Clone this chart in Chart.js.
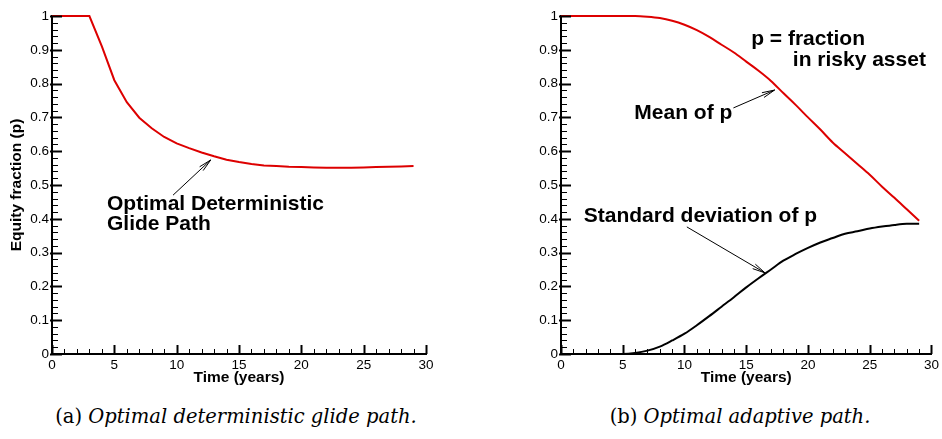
<!DOCTYPE html>
<html lang="en">
<head>
<meta charset="UTF-8">
<title>Glide paths</title>
<script src="https://cdn.jsdelivr.net/npm/chart.js"></script>
<style>
  body { margin: 0; background: #fff; width: 942px; height: 439px; position: relative; overflow: hidden; }
  .panel { position: absolute; top: 0; }
  .caption { position: absolute; top: 405px; font-family: "DejaVu Serif", serif; font-size: 19.5px; color: #000; text-align: center; white-space: nowrap; }
</style>
</head>
<body>
<div class="panel" style="left:0"><canvas id="leftChart" width="445" height="387"></canvas></div>
<div class="panel" style="left:509px"><canvas id="rightChart" width="433" height="387"></canvas></div>
<div class="caption" style="left:36px;width:400px">(a) <i>Optimal deterministic glide path.</i></div>
<div class="caption" style="left:540px;width:400px">(b) <i>Optimal adaptive path.</i></div>

<script>
// time axis (years)
const years = [0, 1, 2, 3, 4, 5, 6, 7, 8, 9, 10, 11, 12, 13, 14, 15, 16, 17, 18, 19, 20, 21, 22, 23, 24, 25, 26, 27, 28, 29];

// (a) optimal deterministic glide path
const deterministicPath = [1, 1, 1, 1, 0.91, 0.81, 0.745, 0.699, 0.668, 0.642, 0.623, 0.609, 0.596, 0.585, 0.575,
  0.568, 0.562, 0.558, 0.556, 0.554, 0.553, 0.552, 0.551, 0.551, 0.551, 0.552, 0.553, 0.554, 0.555, 0.556];

// (b) optimal adaptive path: mean and standard deviation of p
const adaptiveMean = [1, 1, 1, 1, 1, 1, 1, 0.998, 0.994, 0.986, 0.974, 0.958, 0.938, 0.915, 0.892,
  0.865, 0.838, 0.808, 0.772, 0.737, 0.700, 0.664, 0.626, 0.594, 0.562, 0.530, 0.495, 0.462, 0.428, 0.394];
const adaptiveStd = [0, 0, 0, 0, 0, 0, 0.003, 0.01, 0.022, 0.04, 0.06, 0.085, 0.112, 0.14, 0.168,
  0.197, 0.224, 0.25, 0.276, 0.296, 0.314, 0.33, 0.343, 0.356, 0.363, 0.371, 0.377, 0.382, 0.385, 0.385];

const xTicks = [0, 5, 10, 15, 20, 25, 30];
const yTicks = [0, 0.1, 0.2, 0.3, 0.4, 0.5, 0.6, 0.7, 0.8, 0.9, 1];

const sans = '"Liberation Sans", Arial, Helvetica, sans-serif';
const RED = '#dd0000';

function toPoints(ys) {
  return years.map((t, i) => ({ x: t, y: ys[i] }));
}

// tecplot style ticks pointing into the plot, with minor ticks
const innerTicks = {
  id: 'innerTicks',
  afterDraw(chart) {
    const { ctx, chartArea, scales: { x, y } } = chart;
    ctx.save();
    ctx.strokeStyle = '#000';
    for (let i = 0; i <= 50; i++) {
      const py = Math.round(y.getPixelForValue(i / 50)) + 0.5;
      const major = i % 5 === 0;
      ctx.lineWidth = major ? 2 : 1;
      ctx.beginPath();
      ctx.moveTo(chartArea.left - (major ? 2 : 0), py);
      ctx.lineTo(chartArea.left + (major ? 10 : 6), py);
      ctx.stroke();
    }
    for (let t = 0; t <= 30; t++) {
      const px = Math.round(x.getPixelForValue(t)) + 0.5;
      const major = t % 5 === 0;
      ctx.lineWidth = major ? 2 : 1;
      ctx.beginPath();
      ctx.moveTo(px, chartArea.bottom);
      ctx.lineTo(px, chartArea.bottom - (major ? 9 : 5));
      ctx.stroke();
    }
    ctx.restore();
  }
};

function arrow(ctx, x0, y0, x1, y1) {
  const a = Math.atan2(y1 - y0, x1 - x0);
  const len = 13, spread = 0.2;
  ctx.beginPath();
  ctx.moveTo(x0, y0);
  ctx.lineTo(x1, y1);
  ctx.moveTo(x1 - len * Math.cos(a - spread), y1 - len * Math.sin(a - spread));
  ctx.lineTo(x1, y1);
  ctx.lineTo(x1 - len * Math.cos(a + spread), y1 - len * Math.sin(a + spread));
  ctx.stroke();
}

// text labels and arrows placed in data coordinates
const notes = {
  id: 'notes',
  afterDatasetsDraw(chart, args, opts) {
    const { ctx, scales: { x, y } } = chart;
    ctx.save();
    ctx.fillStyle = '#000';
    ctx.strokeStyle = '#000';
    ctx.lineWidth = 1;
    ctx.font = 'bold 21px ' + sans;
    ctx.textBaseline = 'alphabetic';
    ctx.textAlign = 'left';
    (opts.labels || []).forEach(l => {
      ctx.fillText(l.text, x.getPixelForValue(l.x), y.getPixelForValue(l.y));
    });
    (opts.arrows || []).forEach(a => {
      arrow(ctx, x.getPixelForValue(a.from[0]), y.getPixelForValue(a.from[1]),
        x.getPixelForValue(a.to[0]), y.getPixelForValue(a.to[1]));
    });
    ctx.restore();
  }
};

function makeOptions(showYTitle, padRight, noteOpts) {
  return {
    responsive: false,
    animation: false,
    layout: { padding: { top: 16, right: padRight, bottom: 0, left: 0 } },
    plugins: {
      legend: { display: false },
      tooltip: { enabled: false },
      notes: noteOpts
    },
    scales: {
      x: {
        type: 'linear',
        min: 0,
        max: 30,
        afterBuildTicks: s => { s.ticks = xTicks.map(v => ({ value: v })); },
        afterFit: s => { s.height = 33; },
        grid: { display: false, drawTicks: false },
        border: { display: true, color: '#000', width: 2 },
        ticks: { color: '#000', font: { family: sans, size: 13.5 }, padding: 3, maxRotation: 0 },
        title: {
          display: true,
          text: 'Time (years)',
          color: '#000',
          font: { family: sans, size: 15.5, weight: 'bold' },
          padding: { top: 0, bottom: 0 }
        }
      },
      y: {
        min: 0,
        max: 1,
        afterBuildTicks: s => { s.ticks = yTicks.map(v => ({ value: v })); },
        afterFit: s => { s.width = 52; },
        grid: { display: false, drawTicks: false },
        border: { display: true, color: '#000', width: 2 },
        ticks: { color: '#000', font: { family: sans, size: 13.5 }, padding: 3, callback: v => String(+v.toFixed(1)) },
        title: {
          display: showYTitle,
          text: 'Equity fraction (p)',
          color: '#000',
          font: { family: sans, size: 15.5, weight: 'bold' },
          padding: { top: 7, bottom: 0 }
        }
      }
    }
  };
}

new Chart(document.getElementById('leftChart'), {
  type: 'line',
  data: {
    datasets: [{
      label: 'Optimal deterministic glide path',
      data: toPoints(deterministicPath),
      borderColor: RED,
      borderWidth: 2,
      pointRadius: 0,
      tension: 0,
      clip: false
    }]
  },
  options: makeOptions(true, 19, {
    labels: [
      { text: 'Optimal Deterministic', x: 4.41, y: 0.426 },
      { text: 'Glide Path', x: 4.41, y: 0.367 }
    ],
    arrows: [{ from: [9.71, 0.47], to: [12.73, 0.574] }]
  }),
  plugins: [innerTicks, notes]
});

new Chart(document.getElementById('rightChart'), {
  type: 'line',
  data: {
    datasets: [{
      label: 'Mean of p',
      data: toPoints(adaptiveMean),
      borderColor: RED,
      borderWidth: 2,
      pointRadius: 0,
      cubicInterpolationMode: 'monotone',
      clip: false
    }, {
      label: 'Standard deviation of p',
      data: toPoints(adaptiveStd),
      borderColor: '#000',
      borderWidth: 2,
      pointRadius: 0,
      cubicInterpolationMode: 'monotone',
      clip: false
    }]
  },
  options: makeOptions(false, 7, {
    labels: [
      { text: 'p = fraction', x: 15.4, y: 0.914 },
      { text: 'in risky asset', x: 18.77, y: 0.852 },
      { text: 'Mean of p', x: 5.94, y: 0.695 },
      { text: 'Standard deviation of p', x: 1.84, y: 0.391 }
    ],
    arrows: [
      { from: [13.96, 0.728], to: [17.3, 0.781] },
      { from: [10.19, 0.376], to: [16.52, 0.24] }
    ]
  }),
  plugins: [innerTicks, notes]
});
</script>
</body>
</html>
